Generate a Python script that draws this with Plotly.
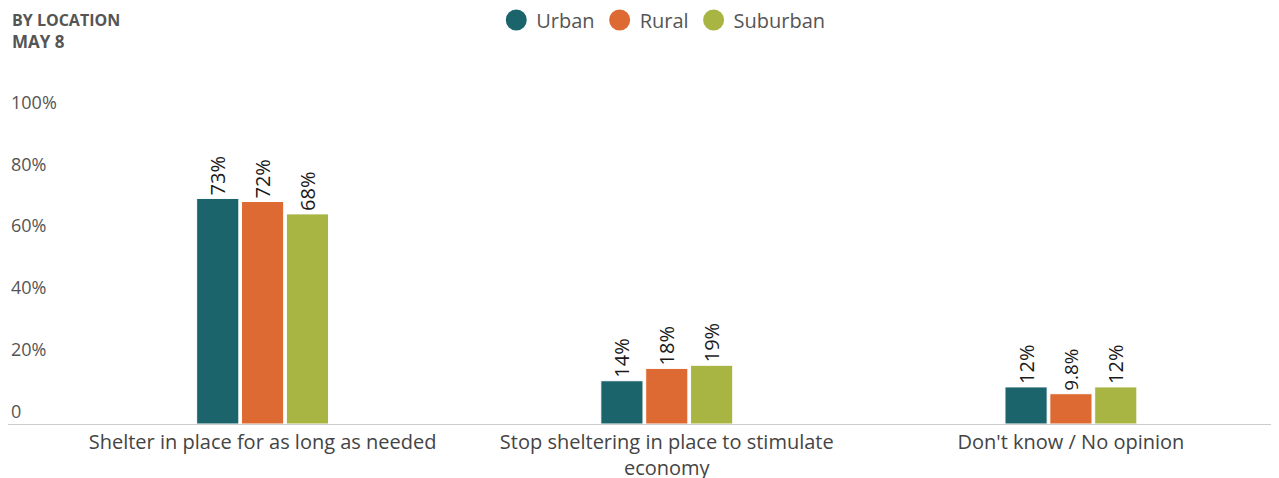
import plotly.graph_objects as go

categories = ["Shelter in place for as long as needed",
              "Stop sheltering in place to stimulate<br>economy",
              "Don't know / No opinion"]
series_names = ["Urban", "Rural", "Suburban"]
urban = [73, 14, 12]
rural = [72, 18, 9.8]
suburban = [68, 19, 12]
colors = ["#1c646b", "#dd6a32", "#a9b543"]
y_ticks = [0, 20, 40, 60, 80, 100]
y_tick_labels = ["0", "20%", "40%", "60%", "80%", "100%"]

FONT = "Open Sans"
W, H = 1271, 470
T, B, L, R = 52, 54, 0, 6
PH = H - T - B

fig = go.Figure()
for name, vals, col in zip(series_names, [urban, rural, suburban], colors):
    fig.add_trace(go.Bar(
        x=categories, y=vals, name=name, showlegend=False,
        marker=dict(color=col, line=dict(color="white", width=1)),
        text=[f"{v:g}%" for v in vals], textposition="outside", textangle=-90,
        textfont=dict(family=FONT, size=20, color="#1a1a1a"),
        cliponaxis=False, hoverinfo="x+y",
    ))
for name, col in zip(series_names, colors):
    fig.add_trace(go.Scatter(
        x=[None], y=[None], mode="markers", name=name,
        marker=dict(color=col, size=16, symbol="circle", line=dict(color=col, width=5)),
    ))

fig.update_layout(
    width=W, height=H,
    margin=dict(l=L, r=R, t=T, b=B, autoexpand=False),
    paper_bgcolor="white", plot_bgcolor="white",
    barmode="group", bargap=0.667, bargroupgap=0.06,
    font=dict(family=FONT, color="#555"),
    legend=dict(orientation="h", x=0.518, xanchor="center", y=1 - 12 / H, yref="container",
                yanchor="middle", font=dict(size=20, color="#555"),
                itemsizing="trace", itemwidth=30, tracegroupgap=0),
    xaxis=dict(type="category", range=[-0.63, 2.5], showline=True, automargin=False,
               linecolor="#cccccc", linewidth=1, showgrid=False, ticks="",
               tickfont=dict(size=20, color="#444"), fixedrange=True),
    yaxis=dict(range=[0, 117.8], tickvals=y_ticks, ticktext=y_tick_labels, automargin=False,
               showgrid=False, zeroline=False, showline=False,
               ticklabelposition="inside top", ticklabelstandoff=0,
               tickfont=dict(size=18, color="#555"), fixedrange=True),
    annotations=[
        dict(text="<b>BY LOCATION</b>", xref="paper", yref="paper",
             x=0, xanchor="left", xshift=2, y=1 + 40 / PH, yanchor="middle",
             showarrow=False, align="left", font=dict(size=16, color="#555")),
        dict(text="<b>MAY 8</b>", xref="paper", yref="paper",
             x=0, xanchor="left", xshift=2, y=1 + 18 / PH, yanchor="middle",
             showarrow=False, align="left", font=dict(size=17, color="#555")),
    ],
)
fig.write_html("out.html")
